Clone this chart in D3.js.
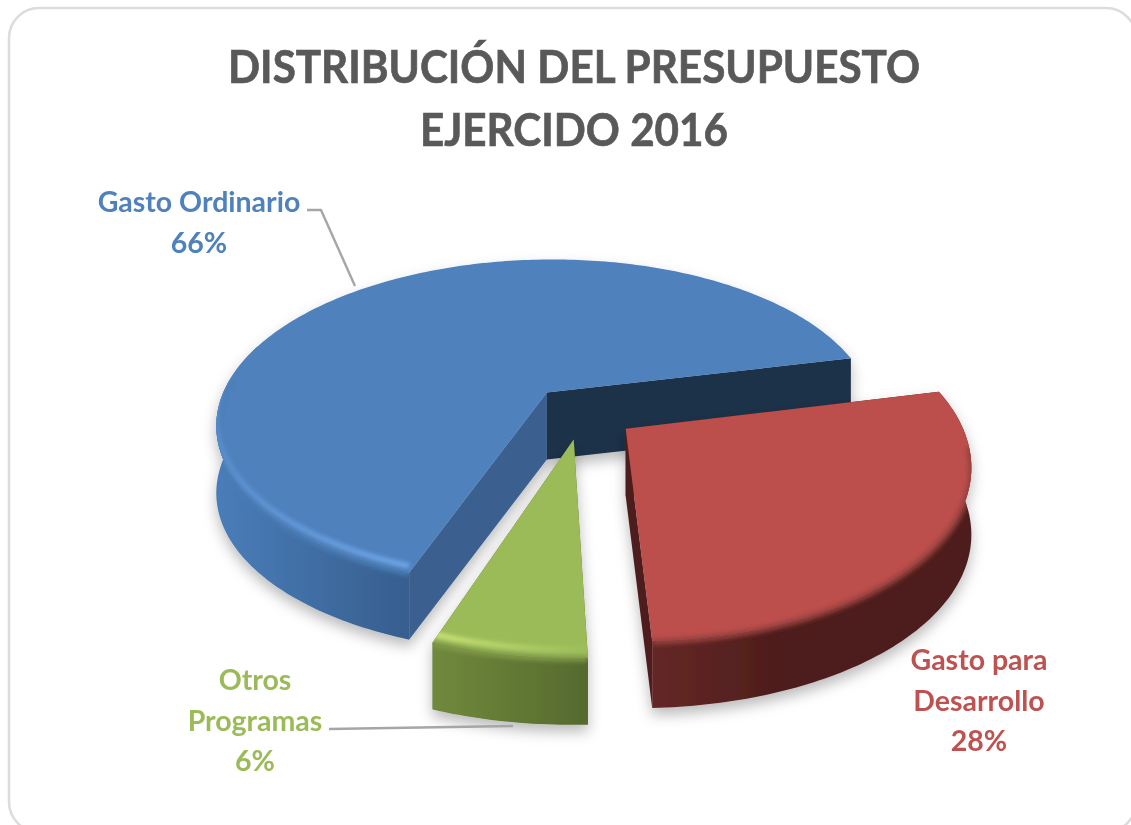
<!DOCTYPE html>
<html>
<head>
<meta charset="utf-8">
<script src="https://d3js.org/d3.v7.min.js"></script>
<style>
  body { margin: 0; background: #fff; }
  svg { display: block; filter: blur(0.4px); }
  text { font-family: Lato, "Open Sans", sans-serif; font-weight: 700; text-anchor: middle; }
</style>
</head>
<body>
<svg id="chart" width="1131" height="825"></svg>
<script>
// values, in clockwise order starting from the right
const categories = ['Gasto para Desarrollo', 'Otros Programas', 'Gasto Ordinario']
const shares = [28, 6, 66]
const titleLines = ['DISTRIBUCIÓN DEL PRESUPUESTO', 'EJERCIDO 2016']
const titleWidths = [692, 308]
const labelLines = [['Gasto para', 'Desarrollo', '28%'], ['Otros', 'Programas', '6%'], ['Gasto Ordinario', '66%']]

const colors = ['#bc4f4c', '#9bbb59', '#4f81bd']
const textColors = ['#bd5250', '#9bbb59', '#4f81bd']
const rimColors = ['#bc4f4c', '#cfe878', '#74abec']
const rimFade = ['#bc4f4c', '#9dbd5a', '#5a90cf']
const edgeColors = ['#96403d', '#7f9a48', '#4a7bb4']
const rimLift = [0, -0.13, -0.1]
const wallStops = [['#642826', '#4e1d1c'], ['#70893c', '#556a2e'], ['#4a7db9', '#365e8e']]
const startWalls = ['#4e1d1c', '#556a2e', '#3a618f']
const endWalls = ['#4e1d1c', '#556a2e', '#1d3149']
const labelPos = [[979, 670], [255, 690], [199, 212]]

// projection of the tilted disc
const cx = 582, cy = 412, R = 331, K = 165, persp = 0.19, depth = 67, explode = 0.163
const tilt = 13 * Math.PI / 180

function project(X, Z, Y) {
    const s = 1 / (1 - persp * Z)
    return [cx + R * X * s, cy + K * Z * s + depth * Y]
}

const svg = d3.select('svg#chart')
const defs = svg.append('defs')

defs.append('filter').attr('id', 'shadow')
    .attr('x', '-10%').attr('y', '-10%').attr('width', '120%').attr('height', '125%')
    .append('feDropShadow')
    .attr('dx', 0).attr('dy', 7).attr('stdDeviation', 7)
    .attr('flood-color', '#000').attr('flood-opacity', 0.27)
defs.append('filter').attr('id', 'soft')
    .attr('filterUnits', 'userSpaceOnUse')
    .attr('x', 0).attr('y', 0).attr('width', 1131).attr('height', 825)
    .append('feGaussianBlur').attr('stdDeviation', 2.2)

// card
svg.append('rect')
    .attr('x', 9).attr('y', 8).attr('width', 1127).attr('height', 824).attr('rx', 30)
    .attr('fill', '#fff').attr('stroke', '#dcdcdc').attr('stroke-width', 2.5)

svg.selectAll('text.title')
    .data(titleLines)
    .join('text')
    .attr('class', 'title')
    .attr('x', 574)
    .attr('y', (d, i) => 83 + i * 63)
    .attr('font-size', 46)
    .attr('fill', '#595959')
    .attr('stroke', '#595959')
    .attr('stroke-width', 0.7)
    .attr('textLength', (d, i) => titleWidths[i])
    .attr('lengthAdjust', 'spacingAndGlyphs')
    .text(d => d)

const pie = d3.pie().sort(null).startAngle(Math.PI / 2 - tilt).endAngle(Math.PI * 2.5 - tilt)
const slices = pie(shares).map((d, i) => {
    const a0 = d.startAngle - Math.PI / 2
    const a1 = d.endAngle - Math.PI / 2
    const mid = (a0 + a1) / 2
    return { i, a0, a1, ox: explode * Math.cos(mid), oz: explode * Math.sin(mid) }
})

const line = d3.line()

function arcPoints(s, Y, from, to) {
    const n = Math.ceil((to - from) * 60)
    return d3.range(n + 1).map(k => {
        const a = from + (to - from) * k / n
        return project(s.ox + Math.cos(a), s.oz + Math.sin(a), Y)
    })
}

// back slice first so the front ones overlap it
const order = [2, 1, 0]
const groups = svg.selectAll('g.slice')
    .data(order.map(i => slices[i]))
    .join('g')
    .attr('class', 'slice')
    .attr('filter', 'url(#shadow)')

groups.each(function(s) {
    const g = d3.select(this)
    const apexTop = project(s.ox, s.oz, 0)
    const apexBot = project(s.ox, s.oz, 1)
    const top = arcPoints(s, 0, s.a0, s.a1)
    const bot = arcPoints(s, 1, s.a0, s.a1)
    const xMin = d3.min(top, p => p[0])
    const xMax = s.i === 2 ? top[0][0] : d3.max(top, p => p[0])

    const grad = defs.append('linearGradient')
        .attr('id', 'wall' + s.i)
        .attr('gradientUnits', 'userSpaceOnUse')
        .attr('x1', xMin).attr('x2', xMax)
        .attr('y1', 0).attr('y2', 0)
    grad.selectAll('stop').data(wallStops[s.i]).join('stop')
        .attr('offset', (d, k) => k === 0 ? '0%' : (s.i === 0 ? '40%' : '100%'))
        .attr('stop-color', d => d)

    // cut faces
    g.append('path')
        .attr('d', line([apexTop, top[0], bot[0], apexBot]) + 'Z')
        .attr('fill', startWalls[s.i])
    g.append('path')
        .attr('d', line([apexTop, top[top.length - 1], bot[bot.length - 1], apexBot]) + 'Z')
        .attr('fill', endWalls[s.i])

    // outer wall, only the part that faces the viewer
    const wallEnd = Math.min(s.a1, Math.PI * 1.1)
    const wallTop = arcPoints(s, 0, s.a0, wallEnd)
    const wallBot = arcPoints(s, 1, s.a0, wallEnd)
    const wall = line(wallTop.concat(wallBot.slice().reverse())) + 'Z'
    g.append('path').attr('d', wall).attr('fill', 'url(#wall' + s.i + ')')

    // top face
    const face = line([apexTop].concat(top)) + 'Z'
    g.append('path').attr('d', face).attr('fill', colors[s.i])

    // soft bevel along the front of the rim, kept inside the slice
    defs.append('clipPath').attr('id', 'clip' + s.i).append('path').attr('d', face + wall)

    // blue brightens towards the cut edge, green the other way round
    const rimGrad = defs.append('linearGradient')
        .attr('id', 'rim' + s.i)
        .attr('gradientUnits', 'userSpaceOnUse')
        .attr('x1', xMin).attr('x2', xMax)
        .attr('y1', 0).attr('y2', 0)
    const rimStops = s.i === 2 ? [rimFade[2], rimColors[2]] : [rimColors[s.i], rimFade[s.i]]
    rimGrad.selectAll('stop').data(rimStops).join('stop')
        .attr('offset', (d, k) => k * 100 + '%')
        .attr('stop-color', d => d)

    const from = Math.max(s.a0, 0.1)
    const to = Math.min(s.a1, Math.PI * 1.03)
    const bevel = g.append('g').attr('clip-path', 'url(#clip' + s.i + ')')
    bevel.append('path')
        .attr('d', line(arcPoints(s, 0.01, from, to)))
        .attr('fill', 'none')
        .attr('stroke', edgeColors[s.i])
        .attr('stroke-width', 6)
        .attr('filter', 'url(#soft)')
    if (rimLift[s.i] < 0) {
        bevel.append('path')
            .attr('d', line(arcPoints(s, rimLift[s.i], from, to)))
            .attr('fill', 'none')
            .attr('stroke', 'url(#rim' + s.i + ')')
            .attr('stroke-width', 5)
            .attr('filter', 'url(#soft)')
    }
})

// leader lines
const leaders = [[[329, 729], [513, 726]], [[307, 210], [321, 210], [355, 286]]]
svg.selectAll('path.leader')
    .data(leaders)
    .join('path')
    .attr('class', 'leader')
    .attr('d', d => line(d))
    .attr('fill', 'none')
    .attr('stroke', '#a6a6a6')
    .attr('stroke-width', 2.4)

labelLines.forEach((lines, i) => {
    svg.append('g').selectAll('text')
        .data(lines)
        .join('text')
        .attr('x', labelPos[i][0])
        .attr('y', (d, k) => labelPos[i][1] + k * 40.5)
        .attr('font-size', 28.5)
        .attr('fill', textColors[i])
        .text(d => d)
})
</script>
</body>
</html>
